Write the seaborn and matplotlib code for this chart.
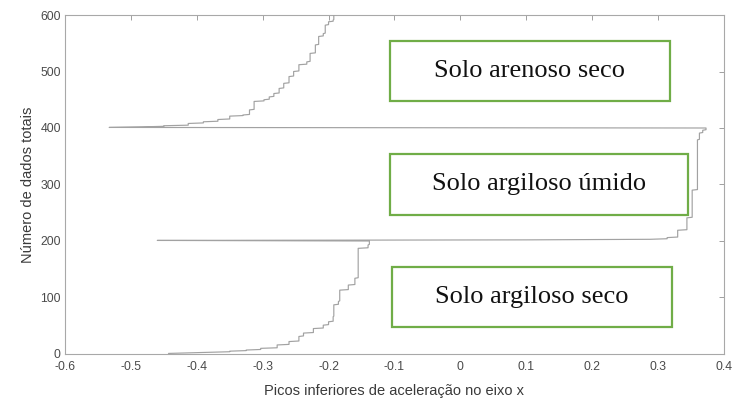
import numpy as np
import pandas as pd
import matplotlib
matplotlib.use("Agg")
import matplotlib.pyplot as plt
import seaborn as sns
from matplotlib.patches import Rectangle

# sorted lower acceleration peaks: distinct values and how many samples have each
seco_arg_vals = [-0.443, -0.41, -0.38, -0.35, -0.325, -0.303, -0.278, -0.260, -0.245, -0.238,
                 -0.223, -0.208, -0.200, -0.193, -0.192, -0.185, -0.183, -0.170, -0.160, -0.155,
                 -0.140, -0.138]
seco_arg_counts = [1, 1, 1, 2, 2, 3, 6, 6, 9, 6, 8, 6, 6, 9, 21, 6, 20, 9, 12, 53, 6, 7]

umido_arg_vals = [-0.46, 0.10, 0.288, 0.314, 0.330, 0.344, 0.352, 0.360, 0.363, 0.368, 0.373]
umido_arg_counts = [1, 1, 1, 3, 13, 22, 49, 89, 12, 5, 4]

seco_are_vals = [-0.533, -0.483, -0.45, -0.413, -0.39, -0.368, -0.350, -0.330, -0.320, -0.313,
                 -0.298, -0.290, -0.283, -0.275, -0.268, -0.260, -0.253, -0.245, -0.233, -0.228,
                 -0.220, -0.215, -0.208, -0.205, -0.200, -0.193, -0.192]
seco_are_counts = [1, 1, 2, 4, 3, 4, 6, 2, 9, 15, 3, 5, 6, 9, 9, 12, 9, 12, 5, 15, 15, 15, 5, 15,
                   6, 3, 9]

labels = ["Solo argiloso seco", "Solo argiloso úmido", "Solo arenoso seco"]
x_ticks = [-0.6, -0.5, -0.4, -0.3, -0.2, -0.1, 0, 0.1, 0.2, 0.3, 0.4]
x_tick_labels = ["-0.6", "-0.5", "-0.4", "-0.3", "-0.2", "-0.1", "0", "0.1", "0.2", "0.3", "0.4"]
y_ticks = [0, 100, 200, 300, 400, 500, 600]

# expand to the full sample sequence (index = data count)
picos = np.concatenate([
    np.repeat(seco_arg_vals, seco_arg_counts),
    np.repeat(umido_arg_vals, umido_arg_counts),
    np.repeat(seco_are_vals, seco_are_counts),
])
df = pd.DataFrame({"pico": picos, "n": np.arange(1, len(picos) + 1)})

sns.set_style("white")
plt.rcParams["font.family"] = ["Liberation Sans", "DejaVu Sans"]

fig = plt.figure(figsize=(7.34, 3.99), dpi=100)
ax = fig.add_axes([0.0886, 0.1128, 0.8975, 0.8496])

sns.lineplot(data=df, x="pico", y="n", sort=False, estimator=None,
             color="#a2a2a2", linewidth=0.85, ax=ax, zorder=5)

ax.set_xlim(-0.6, 0.4)
ax.set_ylim(0, 600)
ax.set_xticks(x_ticks)
ax.set_xticklabels(x_tick_labels)
ax.set_yticks(y_ticks)
ax.tick_params(direction="in", length=3.5, width=0.7, color="#a0a0a0",
               labelsize=8.8, labelcolor="#4a4a4a", top=True, right=True)
ax.tick_params(axis="x", pad=5)
ax.tick_params(axis="y", pad=3)
for s in ax.spines.values():
    s.set_color("#a8a8a8")
    s.set_linewidth(0.8)

ax.set_xlabel("Picos inferiores de aceleração no eixo x", fontsize=10.5, color="#3a3a3a", labelpad=8)
ax.set_ylabel("Número de dados totais", fontsize=10.5, color="#3a3a3a", labelpad=4)

# annotation boxes (axes fraction coords)
boxes = [
    (0.496, 0.079, 0.425, 0.177),   # argiloso seco
    (0.493, 0.410, 0.452, 0.180),   # argiloso umido
    (0.493, 0.746, 0.425, 0.177),   # arenoso seco
]
for (bx, by, bw, bh), lab in zip(boxes, labels):
    ax.add_patch(Rectangle((bx, by), bw, bh, transform=ax.transAxes, fill=True,
                           facecolor="white", edgecolor="#70ad47", linewidth=1.6, zorder=3))
    ax.text(bx + bw / 2, by + bh / 2, lab, transform=ax.transAxes, ha="center", va="center",
            fontsize=19, family="Liberation Serif", color="#111111", zorder=4)

fig.savefig("out.png", dpi=100)
